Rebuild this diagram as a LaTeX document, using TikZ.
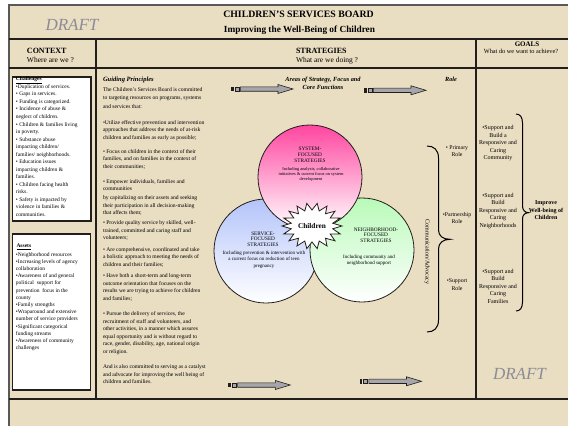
\documentclass[tikz,border=0pt]{standalone}
\usepackage{fontspec}
\setmainfont{Liberation Serif}
\definecolor{beige}{RGB}{233,221,194}
\definecolor{linec}{RGB}{34,30,28}
\definecolor{draftgray}{RGB}{140,140,150}
\definecolor{arrowgray}{RGB}{165,165,170}
\definecolor{pinkc}{RGB}{255,70,160}
\definecolor{bluec}{RGB}{180,196,250}
\definecolor{greenc}{RGB}{185,250,185}
\newcommand\myfs[2]{\fontsize{#1}{#2}\selectfont}
\tikzset{fatarrow/.pic={
  \fill[linec] (0,-2.3) rectangle (2.7,2.3);
  \draw[linec, fill=arrowgray, line width=0.6pt] (4,-2.1) rectangle (8,2.1);
  \draw[linec, fill=arrowgray, line width=0.6pt] (9.3,-2.2) -- (47,-2.2) -- (47,-4.5) -- (62,0) -- (47,4.5) -- (47,2.2) -- (9.3,2.2) -- cycle;
}}
\begin{document}
\begin{tikzpicture}[x=1pt,y=-1pt,
  every node/.style={inner sep=0pt,outer sep=0pt},
  rule/.style={draw=linec, line width=1.3pt},
  body/.style={font=\myfs{5.6}{7.5}, align=left, anchor=base west},
  ctx/.style={font=\myfs{5.5}{7.53}, align=left, anchor=base west},
  boxst/.style={draw=linec, line width=1.4pt, fill=white},
  circ/.style={draw=linec, line width=0.8pt},
  ctitle/.style={font=\myfs{5.3}{5.7}, align=center, anchor=base},
  csmall/.style={font=\myfs{5}{6.4}, align=center, anchor=base},
  role/.style={font=\myfs{5.8}{7.5}, align=center, anchor=base},
  goal/.style={font=\myfs{6}{7.55}, align=center, anchor=base},
  draftst/.style={font=\itshape\myfs{17}{20}, text=draftgray, anchor=base},
  hdr/.style={font=\bfseries\myfs{8}{9}, anchor=base west},
  subhdr/.style={font=\myfs{7.5}{9}, anchor=base west},
  bi/.style={font=\bfseries\itshape\myfs{6.3}{7.6}, align=center, anchor=base},
  bracel/.style={draw=black, line width=1pt}
]
% note: for multi-line nodes the base anchor is the baseline of the LAST line
\useasboundingbox (0,0) rectangle (568,426);
\fill[white] (0,0) rectangle (568,426);
\fill[beige] (9,5) rectangle (568,426);
\draw[line width=1.3pt, draw=gray!70!black] (9,426) -- (9,5) -- (568,5);
% frame rules
\draw[rule, line width=1.6pt] (9,39) -- (568,39);
\draw[rule] (9,68) -- (568,68);
\draw[rule] (9,399) -- (568,399);
\draw[rule] (96,39) -- (96,399);
\draw[rule] (476,39) -- (476,399);

% title band
\node[draftst] (draft1) at (72,30.6) {DRAFT};
\node[font=\bfseries\myfs{9.8}{11}, anchor=base] (title) at (298.5,17.2) {CHILDREN'S SERVICES BOARD};
\node[font=\bfseries\myfs{9.3}{11}, anchor=base] (subtitle) at (299.5,32.8) {Improving the Well-Being of Children};

% header row
\node[hdr] (context) at (27,53.6) {CONTEXT};
\node[subhdr] (contextq) at (27,62.4) {Where are we ?};
\node[hdr] (strat) at (296,53.6) {STRATEGIES};
\node[subhdr] (stratq) at (296,62.4) {What are we doing ?};
\node[font=\bfseries\myfs{7}{8}, anchor=base] (goals) at (527,46.6) {GOALS};
\node[font=\myfs{6.3}{7}, anchor=base] (goalsq) at (521,53.6) {What do we want to achieve?};

% context boxes
\draw[boxst] (12.3,77) rectangle (91,221);
\node[ctx] (chall) at (16,216.4) {\textbf{\underline{Challenges}}\\
•Duplication of services.\\
• Gaps in services.\\
• Funding is categorized.\\
• Incidence of abuse \&\\
neglect of children.\\
• Children \& families living\\
in poverty.\\
• Substance abuse\\
impacting children/\\
families/ neighborhoods.\\
• Education issues\\
impacting children \&\\
families.\\
• Children facing health\\
risks.\\
• Safety is impacted by\\
violence in families \&\\
communities.};
\draw[boxst] (12.3,234) rectangle (90.7,390);
\node[ctx] (assetsh) at (16.5,247.7) {\textbf{\underline{Assets}}};
\node[ctx, font=\myfs{5.5}{7.2}] (assets) at (16,349.6) {•Neighborhood resources\\
•Increasing levels of agency\\
collaboration\\
•Awareness of and general\\
political\ \ support for\\
prevention\ \ focus in the\\
county\\
•Family strengths\\
•Wraparound and extensive\\
number of service providers\\
•Significant categorical\\
funding streams\\
•Awareness of community\\
challenges};

% guiding principles
\node[font=\bfseries\itshape\myfs{6.5}{7.6}, anchor=base west] (gph) at (103,81.2) {Guiding Principles};
\node[body, font=\myfs{5.6}{8.2}] (gp1) at (103,108.1) {The Children's Services Board is committed\\
to targeting resources on programs, systems\\
and services that:};
\node[body] (gp2) at (103,139) {•Utilize effective prevention and intervention\\
approaches that address the needs of at-risk\\
children and families as early as possible;};
\node[body] (gp3) at (103,168.4) {• Focus on children in the context of their\\
families, and on families in the context of\\
their communities;};
\node[body] (gp4) at (103,214.6) {• Empower individuals, families and\\
communities\\[1.5pt]
by capitalizing on their assets and seeking\\
their participation in all decision-making\\
that affects them;};
\node[body] (gp5) at (103,239.7) {• Provide quality service by skilled, well-\\
trained, committed and caring staff and\\
volunteers;};
\node[body] (gp6) at (103,266) {• Are comprehensive, coordinated and take\\
a holistic approach to meeting the needs of\\
children and their families;};
\node[body] (gp7) at (103,300.2) {• Have both a short-term and long-term\\
outcome orientation that focuses on the\\
results we are trying to achieve for children\\
and families;};
\node[body] (gp8) at (103,353) {• Pursue the delivery of services, the\\
recruitment of staff and volunteers, and\\
other activities, in a manner which assures\\
equal opportunity and is without regard to\\
race, gender, disability, age, national origin\\
or religion.};
\node[body] (gp9) at (103,383.6) {And is also committed to serving as a catalyst\\
and advocate for improving the well being of\\
children and families.};

% strategy header
\node[bi] (areas) at (323,89.1) {Areas of Strategy, Focus and\\Core Functions};
\node[bi] (roleh) at (451,81.5) {Role};

% arrows
\pic at (231,89) {fatarrow};
\pic at (364,90.3) {fatarrow};
\pic at (228.3,385) {fatarrow};
\pic at (359.5,381.3) {fatarrow};

% circles
\shadedraw[circ, top color=bluec, middle color=bluec!55!white, bottom color=white] (266,251) circle[radius=52pt];
\shadedraw[circ, top color=greenc, middle color=greenc!55!white, bottom color=white] (362,250) circle[radius=52pt];
\shadedraw[circ, top color=pinkc, middle color=pinkc!60!white, bottom color=white] (310,177) circle[radius=52pt];
\filldraw[fill=white, draw=linec, line width=0.8pt] plot[samples at={0,...,35}] ({312+(30-9*isodd(\x))*cos(\x*10)}, {226+(23-7*isodd(\x))*sin(\x*10)}) -- cycle;
\node[font=\bfseries\myfs{7.3}{8}] (children) at (312,226) {Children};

\node[ctitle] (sysT) at (310,162.1) {SYSTEM-\\FOCUSED\\STRATEGIES};
\node[font=\myfs{4.4}{5}, align=center, anchor=base] (sysS) at (311,180.6) {Including analysis, collaborative\\initiatives \& current focus on system\\development};
\node[ctitle] (serT) at (263,246.4) {SERVICE-\\FOCUSED\\STRATEGIES};
\node[csmall] (serS) at (264,267) {Including prevention \& intervention with\\a current focus on reduction of teen\\pregnancy};
\node[ctitle] (neiT) at (376,242.4) {NEIGHBORHOOD-\\FOCUSED\\STRATEGIES};
\node[csmall, font=\myfs{5}{6}] (neiS) at (369,264.2) {Including community and\\neighborhood support};

% communication / roles
\node[font=\myfs{6}{7}, rotate=-90] (comm) at (427,252) {Communication/Advocacy};
\draw[bracel] (427,146) .. controls (434,146) and (438.5,150) .. (438.5,158) -- (438.5,230) .. controls (438.5,236) and (443,239.3) .. (450,239.3) .. controls (443,239.3) and (438.5,243) .. (438.5,249) -- (438.5,320) .. controls (438.5,328) and (434,332) .. (427,332);
\node[role] (r1) at (457,156.7) {• Primary\\Role};
\node[role] (r2) at (457,223.5) {•Partnership\\Role};
\node[role] (r3) at (457,290.1) {•Support\\Role};

% goals
\node[goal] (g1) at (498,159.9) {•Support and\\Build a\\Responsive and\\Caring\\Community};
\node[goal] (g2) at (498,227.2) {•Support and\\Build\\Responsive and\\Caring\\Neighborhoods};
\node[goal] (g3) at (498,303.2) {•Support and\\Build\\Responsive and\\Caring\\Families};
\draw[bracel] (516,114) .. controls (520,114) and (522.5,117) .. (522.5,123) -- (522.5,206) .. controls (522.5,210) and (525,212.7) .. (528.5,212.7) .. controls (525,212.7) and (522.5,215) .. (522.5,219) -- (522.5,302) .. controls (522.5,308) and (520,311) .. (516,311);
\node[font=\bfseries\myfs{6}{7.3}, align=center, anchor=base] (improve) at (546,219.3) {Improve\\Well-being of\\Children};
\node[draftst] (draft2) at (519.5,379.6) {DRAFT};
\end{tikzpicture}
\end{document}
